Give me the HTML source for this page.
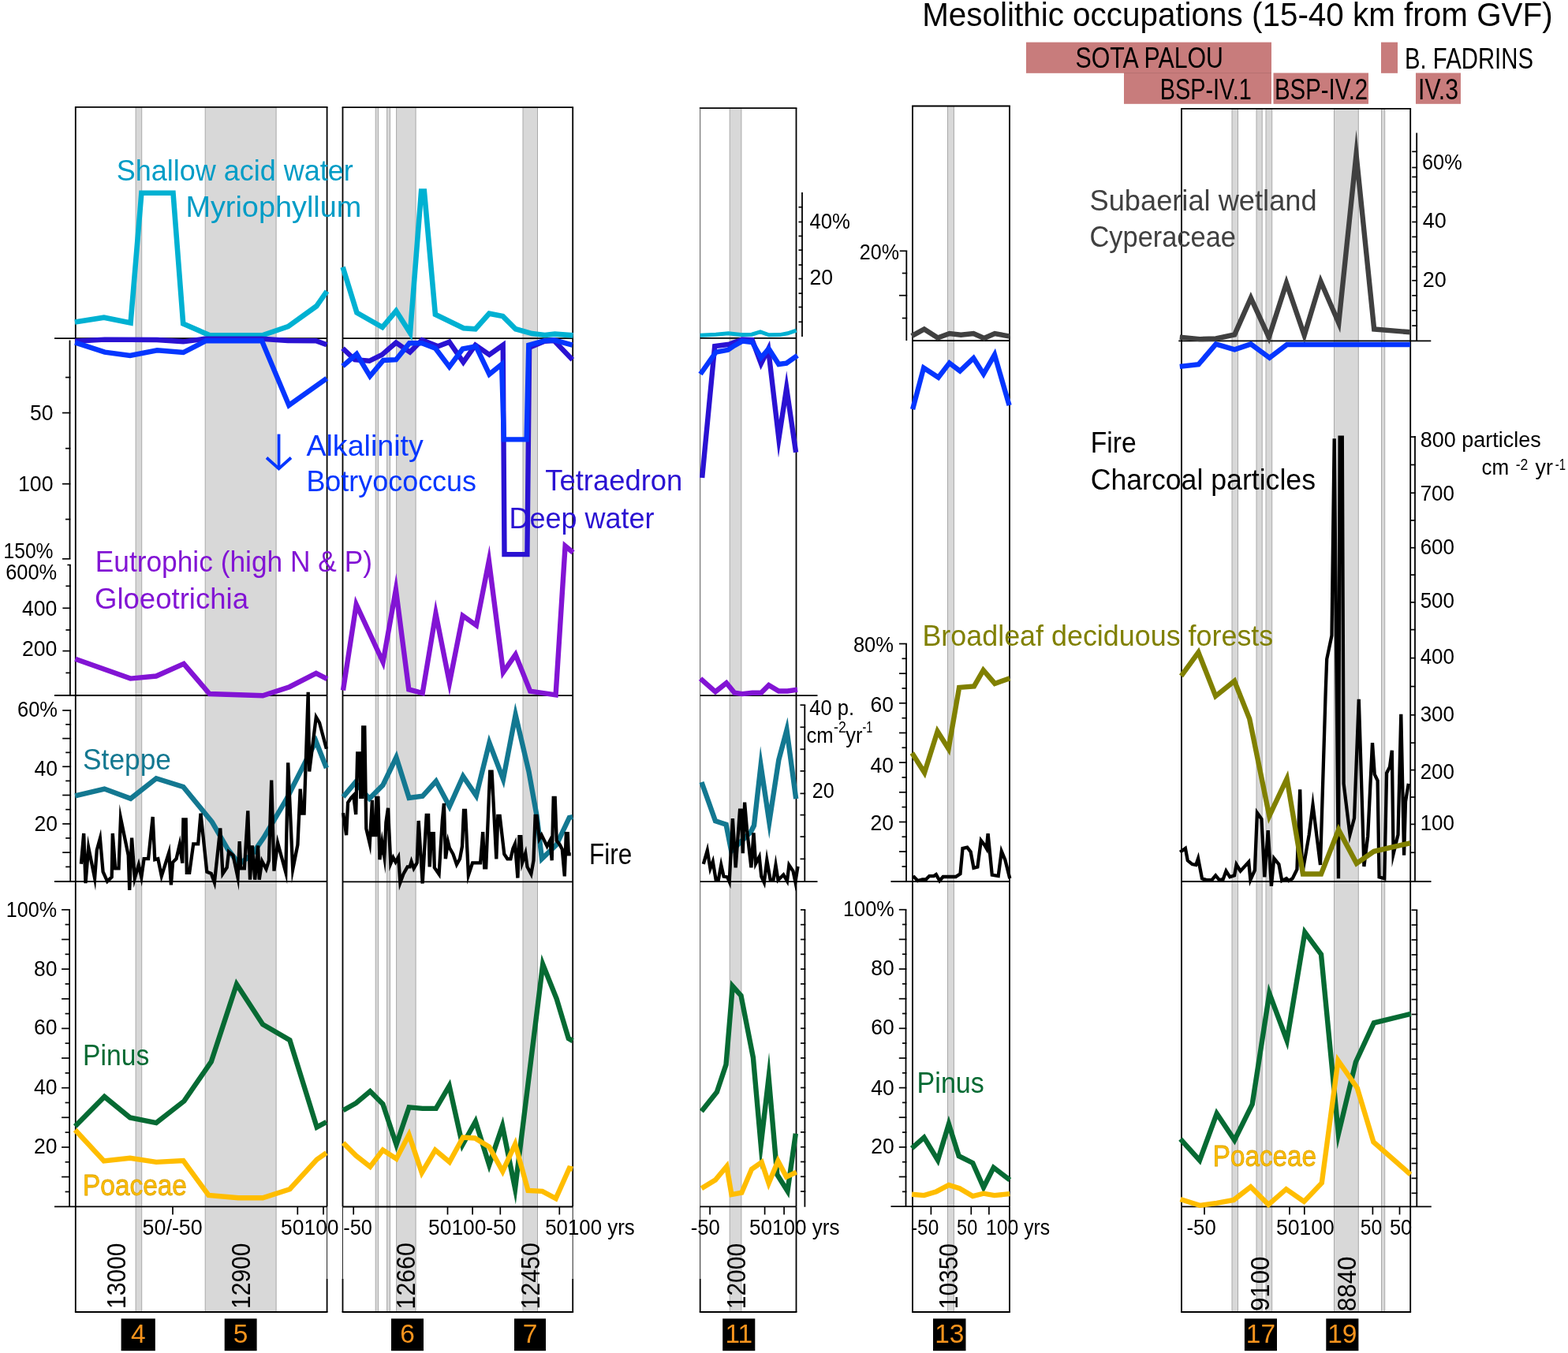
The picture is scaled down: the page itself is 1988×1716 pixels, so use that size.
<!DOCTYPE html>
<html><head><meta charset="utf-8"><title>Mesolithic occupations</title>
<style>
html,body{margin:0;padding:0;background:#fff;}
svg{display:block;font-family:"Liberation Sans",Arial,sans-serif;}
</style></head>
<body>
<svg width="1988" height="1716" viewBox="0 0 1988 1716">
<rect x="0" y="0" width="1988" height="1716" fill="#fff"/>
<rect x="172.1" y="135.8" width="7.6" height="1528.2" fill="#d8d8d8" stroke="#a9a9a9" stroke-width="1"/>
<rect x="260.2" y="135.8" width="89.9" height="1528.2" fill="#d8d8d8" stroke="#a9a9a9" stroke-width="1"/>
<rect x="476.2" y="136.2" width="3.5" height="1527.8" fill="#d8d8d8" stroke="#a9a9a9" stroke-width="1"/>
<rect x="490.6" y="136.2" width="3.9" height="1527.8" fill="#d8d8d8" stroke="#a9a9a9" stroke-width="1"/>
<rect x="502.6" y="136.2" width="24.5" height="1527.8" fill="#d8d8d8" stroke="#a9a9a9" stroke-width="1"/>
<rect x="663.0" y="136.2" width="18.5" height="1527.8" fill="#d8d8d8" stroke="#a9a9a9" stroke-width="1"/>
<rect x="925.2" y="137.2" width="14.7" height="1526.8" fill="#d8d8d8" stroke="#a9a9a9" stroke-width="1"/>
<rect x="1201.5" y="134.5" width="7.9" height="1529.5" fill="#d8d8d8" stroke="#a9a9a9" stroke-width="1"/>
<rect x="1562.0" y="137.9" width="7.5" height="1526.1" fill="#d8d8d8" stroke="#a9a9a9" stroke-width="1"/>
<rect x="1593.0" y="137.9" width="7.2" height="1526.1" fill="#d8d8d8" stroke="#a9a9a9" stroke-width="1"/>
<rect x="1605.0" y="137.9" width="7.7" height="1526.1" fill="#d8d8d8" stroke="#a9a9a9" stroke-width="1"/>
<rect x="1691.5" y="137.9" width="30.8" height="1526.1" fill="#d8d8d8" stroke="#a9a9a9" stroke-width="1"/>
<rect x="1751.5" y="137.9" width="4.2" height="1526.1" fill="#d8d8d8" stroke="#a9a9a9" stroke-width="1"/>
<line x1="94.89999999999999" y1="135.8" x2="415.5" y2="135.8" stroke="#000" stroke-width="1.8"/>
<line x1="95.8" y1="135.8" x2="95.8" y2="1530.5" stroke="#000" stroke-width="1.8"/>
<line x1="95.8" y1="1530.5" x2="95.8" y2="1664" stroke="#000" stroke-width="1.8"/>
<line x1="414.6" y1="135.8" x2="414.6" y2="1530.5" stroke="#000" stroke-width="1.8"/>
<line x1="414.6" y1="1530.5" x2="414.6" y2="1622" stroke="#222" stroke-width="1.0"/>
<line x1="414.6" y1="1622" x2="414.6" y2="1664" stroke="#000" stroke-width="1.8"/>
<line x1="94.89999999999999" y1="1664" x2="415.5" y2="1664" stroke="#000" stroke-width="1.8"/>
<line x1="433.6" y1="136.2" x2="727.1" y2="136.2" stroke="#000" stroke-width="1.8"/>
<line x1="434.5" y1="136.2" x2="434.5" y2="1530.5" stroke="#000" stroke-width="1.8"/>
<line x1="434.5" y1="1530.5" x2="434.5" y2="1622" stroke="#222" stroke-width="1.0"/>
<line x1="434.5" y1="1622" x2="434.5" y2="1664" stroke="#000" stroke-width="1.8"/>
<line x1="726.2" y1="136.2" x2="726.2" y2="1530.5" stroke="#000" stroke-width="1.8"/>
<line x1="726.2" y1="1530.5" x2="726.2" y2="1622" stroke="#222" stroke-width="1.0"/>
<line x1="726.2" y1="1622" x2="726.2" y2="1664" stroke="#000" stroke-width="1.8"/>
<line x1="433.6" y1="1664" x2="727.1" y2="1664" stroke="#000" stroke-width="1.8"/>
<line x1="886.8000000000001" y1="137.2" x2="1010.4" y2="137.2" stroke="#000" stroke-width="1.8"/>
<line x1="887.7" y1="137.2" x2="887.7" y2="1530.5" stroke="#555" stroke-width="1.0"/>
<line x1="887.7" y1="1530.5" x2="887.7" y2="1622" stroke="#222" stroke-width="1.0"/>
<line x1="887.7" y1="1622" x2="887.7" y2="1664" stroke="#000" stroke-width="1.8"/>
<line x1="1009.5" y1="137.2" x2="1009.5" y2="1530.5" stroke="#000" stroke-width="1.8"/>
<line x1="1009.5" y1="1530.5" x2="1009.5" y2="1664" stroke="#000" stroke-width="1.8"/>
<line x1="886.8000000000001" y1="1664" x2="1010.4" y2="1664" stroke="#000" stroke-width="1.8"/>
<line x1="1156.1" y1="134.5" x2="1280.9" y2="134.5" stroke="#000" stroke-width="1.8"/>
<line x1="1157.0" y1="134.5" x2="1157.0" y2="1530.5" stroke="#000" stroke-width="1.8"/>
<line x1="1157.0" y1="1530.5" x2="1157.0" y2="1664" stroke="#000" stroke-width="1.8"/>
<line x1="1280.0" y1="134.5" x2="1280.0" y2="1530.5" stroke="#000" stroke-width="1.8"/>
<line x1="1280.0" y1="1530.5" x2="1280.0" y2="1664" stroke="#000" stroke-width="1.8"/>
<line x1="1156.1" y1="1664" x2="1280.9" y2="1664" stroke="#000" stroke-width="1.8"/>
<line x1="1497.1" y1="137.9" x2="1789.1000000000001" y2="137.9" stroke="#000" stroke-width="1.8"/>
<line x1="1498.0" y1="137.9" x2="1498.0" y2="1530.5" stroke="#000" stroke-width="1.8"/>
<line x1="1498.0" y1="1530.5" x2="1498.0" y2="1664" stroke="#000" stroke-width="1.8"/>
<line x1="1788.2" y1="137.9" x2="1788.2" y2="1530.5" stroke="#000" stroke-width="1.8"/>
<line x1="1788.2" y1="1530.5" x2="1788.2" y2="1664" stroke="#000" stroke-width="1.8"/>
<line x1="1497.1" y1="1664" x2="1789.1000000000001" y2="1664" stroke="#000" stroke-width="1.8"/>
<line x1="69" y1="429.2" x2="414.6" y2="429.2" stroke="#000" stroke-width="1.8"/>
<line x1="434.5" y1="429.2" x2="726.2" y2="429.2" stroke="#000" stroke-width="1.8"/>
<line x1="887.7" y1="428.9" x2="1009.5" y2="428.9" stroke="#000" stroke-width="1.8"/>
<line x1="1157.0" y1="432.0" x2="1280.0" y2="432.0" stroke="#000" stroke-width="1.8"/>
<line x1="1494.3" y1="432.3" x2="1814.3" y2="432.3" stroke="#000" stroke-width="1.8"/>
<line x1="69" y1="882.0" x2="414.6" y2="882.0" stroke="#000" stroke-width="1.8"/>
<line x1="434.5" y1="882.2" x2="726.2" y2="882.2" stroke="#000" stroke-width="1.8"/>
<line x1="887.7" y1="882.1" x2="1036.5" y2="882.1" stroke="#000" stroke-width="1.8"/>
<line x1="69" y1="1118.0" x2="414.6" y2="1118.0" stroke="#000" stroke-width="1.8"/>
<line x1="434.5" y1="1118.3" x2="726.2" y2="1118.3" stroke="#000" stroke-width="1.8"/>
<line x1="887.7" y1="1118.1" x2="1036.5" y2="1118.1" stroke="#000" stroke-width="1.8"/>
<line x1="1129.5" y1="1118.0" x2="1280.0" y2="1118.0" stroke="#000" stroke-width="1.8"/>
<line x1="1498.0" y1="1118.0" x2="1814.5" y2="1118.0" stroke="#000" stroke-width="1.8"/>
<line x1="69" y1="1530.3" x2="414.6" y2="1530.3" stroke="#000" stroke-width="1.8"/>
<line x1="434.5" y1="1530.5" x2="726.2" y2="1530.5" stroke="#000" stroke-width="1.8"/>
<line x1="887.4" y1="1530.4" x2="1009.5" y2="1530.4" stroke="#000" stroke-width="1.8"/>
<line x1="1129.5" y1="1530.2" x2="1280.0" y2="1530.2" stroke="#000" stroke-width="1.8"/>
<line x1="1497.6" y1="1530.3" x2="1814.8" y2="1530.3" stroke="#000" stroke-width="1.8"/>
<line x1="219" y1="1530.5" x2="219" y2="1540.5" stroke="#000" stroke-width="1.7"/>
<line x1="377.3" y1="1530.5" x2="377.3" y2="1540.5" stroke="#000" stroke-width="1.7"/>
<line x1="410" y1="1530.5" x2="410" y2="1540.5" stroke="#000" stroke-width="1.7"/>
<line x1="448.2" y1="1530.5" x2="448.2" y2="1540.5" stroke="#000" stroke-width="1.7"/>
<line x1="567.5" y1="1530.5" x2="567.5" y2="1540.5" stroke="#000" stroke-width="1.7"/>
<line x1="599.1" y1="1530.5" x2="599.1" y2="1540.5" stroke="#000" stroke-width="1.7"/>
<line x1="634.3" y1="1530.5" x2="634.3" y2="1540.5" stroke="#000" stroke-width="1.7"/>
<line x1="709.3" y1="1530.5" x2="709.3" y2="1540.5" stroke="#000" stroke-width="1.7"/>
<line x1="900.1" y1="1530.5" x2="900.1" y2="1540.5" stroke="#000" stroke-width="1.7"/>
<line x1="969.6" y1="1530.5" x2="969.6" y2="1540.5" stroke="#000" stroke-width="1.7"/>
<line x1="994.1" y1="1530.5" x2="994.1" y2="1540.5" stroke="#000" stroke-width="1.7"/>
<line x1="1180.4" y1="1530.5" x2="1180.4" y2="1540.5" stroke="#000" stroke-width="1.7"/>
<line x1="1231.3" y1="1530.5" x2="1231.3" y2="1540.5" stroke="#000" stroke-width="1.7"/>
<line x1="1253.9" y1="1530.5" x2="1253.9" y2="1540.5" stroke="#000" stroke-width="1.7"/>
<line x1="1527" y1="1530.5" x2="1527" y2="1540.5" stroke="#000" stroke-width="1.7"/>
<line x1="1635" y1="1530.5" x2="1635" y2="1540.5" stroke="#000" stroke-width="1.7"/>
<line x1="1653.8" y1="1530.5" x2="1653.8" y2="1540.5" stroke="#000" stroke-width="1.7"/>
<line x1="1740.4" y1="1530.5" x2="1740.4" y2="1540.5" stroke="#000" stroke-width="1.7"/>
<line x1="1774.5" y1="1530.5" x2="1774.5" y2="1540.5" stroke="#000" stroke-width="1.7"/>
<line x1="88.5" y1="431.5" x2="88.5" y2="708.8" stroke="#000" stroke-width="1.8"/>
<line x1="79.0" y1="523.6" x2="89.4" y2="523.6" stroke="#000" stroke-width="1.7"/>
<line x1="79.0" y1="613.7" x2="89.4" y2="613.7" stroke="#000" stroke-width="1.7"/>
<line x1="79.0" y1="708.8" x2="89.4" y2="708.8" stroke="#000" stroke-width="1.7"/>
<line x1="83.0" y1="478.6" x2="89.4" y2="478.6" stroke="#000" stroke-width="1.7"/>
<line x1="83.0" y1="568.7" x2="89.4" y2="568.7" stroke="#000" stroke-width="1.7"/>
<line x1="83.0" y1="658.6" x2="89.4" y2="658.6" stroke="#000" stroke-width="1.7"/>
<line x1="88.9" y1="716.5" x2="88.9" y2="882" stroke="#000" stroke-width="1.8"/>
<line x1="85.4" y1="716.5" x2="89.80000000000001" y2="716.5" stroke="#000" stroke-width="1.7"/>
<line x1="79.4" y1="771.3" x2="89.80000000000001" y2="771.3" stroke="#000" stroke-width="1.7"/>
<line x1="79.4" y1="825.6" x2="89.80000000000001" y2="825.6" stroke="#000" stroke-width="1.7"/>
<line x1="83.4" y1="743.3" x2="89.80000000000001" y2="743.3" stroke="#000" stroke-width="1.7"/>
<line x1="83.4" y1="799.0" x2="89.80000000000001" y2="799.0" stroke="#000" stroke-width="1.7"/>
<line x1="83.4" y1="853.4" x2="89.80000000000001" y2="853.4" stroke="#000" stroke-width="1.7"/>
<line x1="89.2" y1="900" x2="89.2" y2="1118" stroke="#000" stroke-width="1.8"/>
<line x1="79.2" y1="901.0" x2="90.10000000000001" y2="901.0" stroke="#000" stroke-width="1.7"/>
<line x1="79.2" y1="972.3" x2="90.10000000000001" y2="972.3" stroke="#000" stroke-width="1.7"/>
<line x1="79.2" y1="1044.9" x2="90.10000000000001" y2="1044.9" stroke="#000" stroke-width="1.7"/>
<line x1="79.2" y1="936.6" x2="90.10000000000001" y2="936.6" stroke="#000" stroke-width="1.7"/>
<line x1="79.2" y1="1008.5" x2="90.10000000000001" y2="1008.5" stroke="#000" stroke-width="1.7"/>
<line x1="79.2" y1="1081.2" x2="90.10000000000001" y2="1081.2" stroke="#000" stroke-width="1.7"/>
<line x1="83.2" y1="918.8" x2="90.10000000000001" y2="918.8" stroke="#000" stroke-width="1.7"/>
<line x1="83.2" y1="954.4" x2="90.10000000000001" y2="954.4" stroke="#000" stroke-width="1.7"/>
<line x1="83.2" y1="990.4" x2="90.10000000000001" y2="990.4" stroke="#000" stroke-width="1.7"/>
<line x1="83.2" y1="1026.7" x2="90.10000000000001" y2="1026.7" stroke="#000" stroke-width="1.7"/>
<line x1="83.2" y1="1063.0" x2="90.10000000000001" y2="1063.0" stroke="#000" stroke-width="1.7"/>
<line x1="83.2" y1="1099.4" x2="90.10000000000001" y2="1099.4" stroke="#000" stroke-width="1.7"/>
<line x1="88.1" y1="1153.8" x2="88.1" y2="1530.3" stroke="#000" stroke-width="1.8"/>
<line x1="78.1" y1="1153.8" x2="89.0" y2="1153.8" stroke="#000" stroke-width="1.7"/>
<line x1="82.6" y1="1172.6" x2="89.0" y2="1172.6" stroke="#000" stroke-width="1.7"/>
<line x1="78.1" y1="1191.5" x2="89.0" y2="1191.5" stroke="#000" stroke-width="1.7"/>
<line x1="82.6" y1="1210.3" x2="89.0" y2="1210.3" stroke="#000" stroke-width="1.7"/>
<line x1="78.1" y1="1229.1" x2="89.0" y2="1229.1" stroke="#000" stroke-width="1.7"/>
<line x1="82.6" y1="1247.9" x2="89.0" y2="1247.9" stroke="#000" stroke-width="1.7"/>
<line x1="78.1" y1="1266.8" x2="89.0" y2="1266.8" stroke="#000" stroke-width="1.7"/>
<line x1="82.6" y1="1285.6" x2="89.0" y2="1285.6" stroke="#000" stroke-width="1.7"/>
<line x1="78.1" y1="1304.4" x2="89.0" y2="1304.4" stroke="#000" stroke-width="1.7"/>
<line x1="82.6" y1="1323.2" x2="89.0" y2="1323.2" stroke="#000" stroke-width="1.7"/>
<line x1="78.1" y1="1342.0" x2="89.0" y2="1342.0" stroke="#000" stroke-width="1.7"/>
<line x1="82.6" y1="1360.9" x2="89.0" y2="1360.9" stroke="#000" stroke-width="1.7"/>
<line x1="78.1" y1="1379.7" x2="89.0" y2="1379.7" stroke="#000" stroke-width="1.7"/>
<line x1="82.6" y1="1398.5" x2="89.0" y2="1398.5" stroke="#000" stroke-width="1.7"/>
<line x1="78.1" y1="1417.3" x2="89.0" y2="1417.3" stroke="#000" stroke-width="1.7"/>
<line x1="82.6" y1="1436.2" x2="89.0" y2="1436.2" stroke="#000" stroke-width="1.7"/>
<line x1="78.1" y1="1455.0" x2="89.0" y2="1455.0" stroke="#000" stroke-width="1.7"/>
<line x1="82.6" y1="1473.8" x2="89.0" y2="1473.8" stroke="#000" stroke-width="1.7"/>
<line x1="78.1" y1="1492.6" x2="89.0" y2="1492.6" stroke="#000" stroke-width="1.7"/>
<line x1="82.6" y1="1511.5" x2="89.0" y2="1511.5" stroke="#000" stroke-width="1.7"/>
<text x="38.0" y="532.9" font-size="27" fill="#000" textLength="29.5" lengthAdjust="spacingAndGlyphs" >50</text>
<text x="23.0" y="623.3" font-size="27" fill="#000" textLength="44.5" lengthAdjust="spacingAndGlyphs" >100</text>
<text x="4.5" y="707.5" font-size="27" fill="#000" textLength="63.0" lengthAdjust="spacingAndGlyphs" >150%</text>
<text x="7.2" y="735.0" font-size="27" fill="#000" textLength="65.0" lengthAdjust="spacingAndGlyphs" >600%</text>
<text x="27.9" y="781.4" font-size="27" fill="#000" textLength="44.5" lengthAdjust="spacingAndGlyphs" >400</text>
<text x="27.9" y="832.2" font-size="27" fill="#000" textLength="44.5" lengthAdjust="spacingAndGlyphs" >200</text>
<text x="22.0" y="909.4" font-size="27" fill="#000" textLength="51.0" lengthAdjust="spacingAndGlyphs" >60%</text>
<text x="43.5" y="984.0" font-size="27" fill="#000" textLength="29.5" lengthAdjust="spacingAndGlyphs" >40</text>
<text x="43.5" y="1054.2" font-size="27" fill="#000" textLength="29.5" lengthAdjust="spacingAndGlyphs" >20</text>
<text x="7.7" y="1162.5" font-size="27" fill="#000" textLength="64.3" lengthAdjust="spacingAndGlyphs" >100%</text>
<text x="43.0" y="1237.9" font-size="27" fill="#000" textLength="29.5" lengthAdjust="spacingAndGlyphs" >80</text>
<text x="43.0" y="1311.9" font-size="27" fill="#000" textLength="29.5" lengthAdjust="spacingAndGlyphs" >60</text>
<text x="43.0" y="1388.4" font-size="27" fill="#000" textLength="29.5" lengthAdjust="spacingAndGlyphs" >40</text>
<text x="43.0" y="1462.8" font-size="27" fill="#000" textLength="29.5" lengthAdjust="spacingAndGlyphs" >20</text>
<line x1="1017.0" y1="243.9" x2="1017.0" y2="427.0" stroke="#000" stroke-width="1.8"/>
<line x1="1012.5" y1="262.7" x2="1017.9" y2="262.7" stroke="#000" stroke-width="1.7"/>
<line x1="1012.5" y1="281.5" x2="1017.9" y2="281.5" stroke="#000" stroke-width="1.7"/>
<line x1="1012.5" y1="299.4" x2="1017.9" y2="299.4" stroke="#000" stroke-width="1.7"/>
<line x1="1012.5" y1="317.2" x2="1017.9" y2="317.2" stroke="#000" stroke-width="1.7"/>
<line x1="1012.5" y1="336.0" x2="1017.9" y2="336.0" stroke="#000" stroke-width="1.7"/>
<line x1="1012.5" y1="353.5" x2="1017.9" y2="353.5" stroke="#000" stroke-width="1.7"/>
<line x1="1012.5" y1="372.1" x2="1017.9" y2="372.1" stroke="#000" stroke-width="1.7"/>
<line x1="1012.5" y1="389.5" x2="1017.9" y2="389.5" stroke="#000" stroke-width="1.7"/>
<line x1="1012.5" y1="408.3" x2="1017.9" y2="408.3" stroke="#000" stroke-width="1.7"/>
<text x="1026.5" y="290.4" font-size="27" fill="#000" textLength="51.5" lengthAdjust="spacingAndGlyphs" >40%</text>
<text x="1026.5" y="361.4" font-size="27" fill="#000" textLength="29.7" lengthAdjust="spacingAndGlyphs" >20</text>
<line x1="1020.3" y1="894.2" x2="1020.3" y2="1118.0" stroke="#000" stroke-width="1.8"/>
<line x1="1014.5" y1="894.2" x2="1021.1999999999999" y2="894.2" stroke="#000" stroke-width="1.7"/>
<line x1="1014.5" y1="922.3" x2="1021.1999999999999" y2="922.3" stroke="#000" stroke-width="1.7"/>
<line x1="1014.5" y1="950.3" x2="1021.1999999999999" y2="950.3" stroke="#000" stroke-width="1.7"/>
<line x1="1014.5" y1="977.9" x2="1021.1999999999999" y2="977.9" stroke="#000" stroke-width="1.7"/>
<line x1="1014.5" y1="1006.4" x2="1021.1999999999999" y2="1006.4" stroke="#000" stroke-width="1.7"/>
<line x1="1014.5" y1="1033.6" x2="1021.1999999999999" y2="1033.6" stroke="#000" stroke-width="1.7"/>
<line x1="1014.5" y1="1061.2" x2="1021.1999999999999" y2="1061.2" stroke="#000" stroke-width="1.7"/>
<line x1="1014.5" y1="1089.4" x2="1021.1999999999999" y2="1089.4" stroke="#000" stroke-width="1.7"/>
<text x="1026.3" y="907.4" font-size="27" fill="#000" textLength="56.9" lengthAdjust="spacingAndGlyphs" >40 p.</text>
<text x="1022.5" y="942.3" font-size="27" fill="#000" textLength="34.3" lengthAdjust="spacingAndGlyphs" >cm</text>
<text x="1057.0" y="928.8" font-size="20.5" fill="#000" textLength="15.8" lengthAdjust="spacingAndGlyphs" >-2</text>
<text x="1072.3" y="942.3" font-size="27" fill="#000" textLength="21.2" lengthAdjust="spacingAndGlyphs" >yr</text>
<text x="1093.5" y="928.8" font-size="20.5" fill="#000" textLength="12.8" lengthAdjust="spacingAndGlyphs" >-1</text>
<text x="1029.7" y="1012.4" font-size="27" fill="#000" textLength="28.0" lengthAdjust="spacingAndGlyphs" >20</text>
<line x1="1020.4" y1="1153.9" x2="1020.4" y2="1530.7" stroke="#000" stroke-width="1.8"/>
<line x1="1015.0" y1="1153.9" x2="1021.3" y2="1153.9" stroke="#000" stroke-width="1.7"/>
<line x1="1015.0" y1="1172.7" x2="1021.3" y2="1172.7" stroke="#000" stroke-width="1.7"/>
<line x1="1015.0" y1="1191.5" x2="1021.3" y2="1191.5" stroke="#000" stroke-width="1.7"/>
<line x1="1015.0" y1="1210.3" x2="1021.3" y2="1210.3" stroke="#000" stroke-width="1.7"/>
<line x1="1015.0" y1="1229.1" x2="1021.3" y2="1229.1" stroke="#000" stroke-width="1.7"/>
<line x1="1015.0" y1="1247.9" x2="1021.3" y2="1247.9" stroke="#000" stroke-width="1.7"/>
<line x1="1015.0" y1="1266.7" x2="1021.3" y2="1266.7" stroke="#000" stroke-width="1.7"/>
<line x1="1015.0" y1="1285.5" x2="1021.3" y2="1285.5" stroke="#000" stroke-width="1.7"/>
<line x1="1015.0" y1="1304.3" x2="1021.3" y2="1304.3" stroke="#000" stroke-width="1.7"/>
<line x1="1015.0" y1="1323.1" x2="1021.3" y2="1323.1" stroke="#000" stroke-width="1.7"/>
<line x1="1015.0" y1="1341.9" x2="1021.3" y2="1341.9" stroke="#000" stroke-width="1.7"/>
<line x1="1015.0" y1="1360.7" x2="1021.3" y2="1360.7" stroke="#000" stroke-width="1.7"/>
<line x1="1015.0" y1="1379.5" x2="1021.3" y2="1379.5" stroke="#000" stroke-width="1.7"/>
<line x1="1015.0" y1="1398.3" x2="1021.3" y2="1398.3" stroke="#000" stroke-width="1.7"/>
<line x1="1015.0" y1="1417.1" x2="1021.3" y2="1417.1" stroke="#000" stroke-width="1.7"/>
<line x1="1015.0" y1="1435.9" x2="1021.3" y2="1435.9" stroke="#000" stroke-width="1.7"/>
<line x1="1015.0" y1="1454.7" x2="1021.3" y2="1454.7" stroke="#000" stroke-width="1.7"/>
<line x1="1015.0" y1="1473.5" x2="1021.3" y2="1473.5" stroke="#000" stroke-width="1.7"/>
<line x1="1015.0" y1="1492.3" x2="1021.3" y2="1492.3" stroke="#000" stroke-width="1.7"/>
<line x1="1015.0" y1="1511.1" x2="1021.3" y2="1511.1" stroke="#000" stroke-width="1.7"/>
<line x1="1149.3" y1="318.3" x2="1149.3" y2="432.0" stroke="#000" stroke-width="1.8"/>
<line x1="1140.7" y1="318.3" x2="1150.2" y2="318.3" stroke="#000" stroke-width="1.7"/>
<line x1="1143.8" y1="346.5" x2="1150.2" y2="346.5" stroke="#000" stroke-width="1.7"/>
<line x1="1140.0" y1="374.7" x2="1150.2" y2="374.7" stroke="#000" stroke-width="1.7"/>
<line x1="1143.8" y1="403.5" x2="1150.2" y2="403.5" stroke="#000" stroke-width="1.7"/>
<text x="1089.8" y="329.4" font-size="27" fill="#000" textLength="50.2" lengthAdjust="spacingAndGlyphs" >20%</text>
<line x1="1149.0" y1="816.5" x2="1149.0" y2="1118.0" stroke="#000" stroke-width="1.8"/>
<line x1="1140.0" y1="816.5" x2="1149.9" y2="816.5" stroke="#000" stroke-width="1.7"/>
<line x1="1143.5" y1="835.3" x2="1149.9" y2="835.3" stroke="#000" stroke-width="1.7"/>
<line x1="1140.0" y1="854.2" x2="1149.9" y2="854.2" stroke="#000" stroke-width="1.7"/>
<line x1="1143.5" y1="873.0" x2="1149.9" y2="873.0" stroke="#000" stroke-width="1.7"/>
<line x1="1140.0" y1="891.8" x2="1149.9" y2="891.8" stroke="#000" stroke-width="1.7"/>
<line x1="1143.5" y1="910.7" x2="1149.9" y2="910.7" stroke="#000" stroke-width="1.7"/>
<line x1="1140.0" y1="929.5" x2="1149.9" y2="929.5" stroke="#000" stroke-width="1.7"/>
<line x1="1143.5" y1="948.3" x2="1149.9" y2="948.3" stroke="#000" stroke-width="1.7"/>
<line x1="1140.0" y1="967.1" x2="1149.9" y2="967.1" stroke="#000" stroke-width="1.7"/>
<line x1="1143.5" y1="986.0" x2="1149.9" y2="986.0" stroke="#000" stroke-width="1.7"/>
<line x1="1140.0" y1="1004.8" x2="1149.9" y2="1004.8" stroke="#000" stroke-width="1.7"/>
<line x1="1143.5" y1="1023.6" x2="1149.9" y2="1023.6" stroke="#000" stroke-width="1.7"/>
<line x1="1140.0" y1="1042.5" x2="1149.9" y2="1042.5" stroke="#000" stroke-width="1.7"/>
<line x1="1143.5" y1="1061.3" x2="1149.9" y2="1061.3" stroke="#000" stroke-width="1.7"/>
<line x1="1140.0" y1="1080.1" x2="1149.9" y2="1080.1" stroke="#000" stroke-width="1.7"/>
<line x1="1143.5" y1="1099.0" x2="1149.9" y2="1099.0" stroke="#000" stroke-width="1.7"/>
<text x="1081.9" y="826.7" font-size="27" fill="#000" textLength="51.1" lengthAdjust="spacingAndGlyphs" >80%</text>
<text x="1103.5" y="902.5" font-size="27" fill="#000" textLength="29.5" lengthAdjust="spacingAndGlyphs" >60</text>
<text x="1103.5" y="979.9" font-size="27" fill="#000" textLength="29.5" lengthAdjust="spacingAndGlyphs" >40</text>
<text x="1103.5" y="1052.8" font-size="27" fill="#000" textLength="29.5" lengthAdjust="spacingAndGlyphs" >20</text>
<line x1="1148.5" y1="1153.7" x2="1148.5" y2="1530.2" stroke="#000" stroke-width="1.8"/>
<line x1="1139.8" y1="1153.7" x2="1149.4" y2="1153.7" stroke="#000" stroke-width="1.7"/>
<line x1="1144.0" y1="1172.5" x2="1149.4" y2="1172.5" stroke="#000" stroke-width="1.7"/>
<line x1="1139.8" y1="1191.4" x2="1149.4" y2="1191.4" stroke="#000" stroke-width="1.7"/>
<line x1="1144.0" y1="1210.2" x2="1149.4" y2="1210.2" stroke="#000" stroke-width="1.7"/>
<line x1="1139.8" y1="1229.0" x2="1149.4" y2="1229.0" stroke="#000" stroke-width="1.7"/>
<line x1="1144.0" y1="1247.8" x2="1149.4" y2="1247.8" stroke="#000" stroke-width="1.7"/>
<line x1="1139.8" y1="1266.7" x2="1149.4" y2="1266.7" stroke="#000" stroke-width="1.7"/>
<line x1="1144.0" y1="1285.5" x2="1149.4" y2="1285.5" stroke="#000" stroke-width="1.7"/>
<line x1="1139.8" y1="1304.3" x2="1149.4" y2="1304.3" stroke="#000" stroke-width="1.7"/>
<line x1="1144.0" y1="1323.1" x2="1149.4" y2="1323.1" stroke="#000" stroke-width="1.7"/>
<line x1="1139.8" y1="1342.0" x2="1149.4" y2="1342.0" stroke="#000" stroke-width="1.7"/>
<line x1="1144.0" y1="1360.8" x2="1149.4" y2="1360.8" stroke="#000" stroke-width="1.7"/>
<line x1="1139.8" y1="1379.6" x2="1149.4" y2="1379.6" stroke="#000" stroke-width="1.7"/>
<line x1="1144.0" y1="1398.4" x2="1149.4" y2="1398.4" stroke="#000" stroke-width="1.7"/>
<line x1="1139.8" y1="1417.2" x2="1149.4" y2="1417.2" stroke="#000" stroke-width="1.7"/>
<line x1="1144.0" y1="1436.1" x2="1149.4" y2="1436.1" stroke="#000" stroke-width="1.7"/>
<line x1="1139.8" y1="1454.9" x2="1149.4" y2="1454.9" stroke="#000" stroke-width="1.7"/>
<line x1="1144.0" y1="1473.7" x2="1149.4" y2="1473.7" stroke="#000" stroke-width="1.7"/>
<line x1="1139.8" y1="1492.5" x2="1149.4" y2="1492.5" stroke="#000" stroke-width="1.7"/>
<line x1="1144.0" y1="1511.4" x2="1149.4" y2="1511.4" stroke="#000" stroke-width="1.7"/>
<text x="1069.0" y="1162.4" font-size="27" fill="#000" textLength="64.7" lengthAdjust="spacingAndGlyphs" >100%</text>
<text x="1104.2" y="1237.3" font-size="27" fill="#000" textLength="29.5" lengthAdjust="spacingAndGlyphs" >80</text>
<text x="1104.2" y="1312.3" font-size="27" fill="#000" textLength="29.5" lengthAdjust="spacingAndGlyphs" >60</text>
<text x="1104.2" y="1389.0" font-size="27" fill="#000" textLength="29.5" lengthAdjust="spacingAndGlyphs" >40</text>
<text x="1104.2" y="1463.2" font-size="27" fill="#000" textLength="29.5" lengthAdjust="spacingAndGlyphs" >20</text>
<line x1="1796.2" y1="168.6" x2="1796.2" y2="432.3" stroke="#000" stroke-width="1.8"/>
<line x1="1790.2" y1="413.1" x2="1797.1000000000001" y2="413.1" stroke="#000" stroke-width="1.7"/>
<line x1="1790.2" y1="393.9" x2="1797.1000000000001" y2="393.9" stroke="#000" stroke-width="1.7"/>
<line x1="1790.2" y1="374.8" x2="1797.1000000000001" y2="374.8" stroke="#000" stroke-width="1.7"/>
<line x1="1790.2" y1="355.8" x2="1797.1000000000001" y2="355.8" stroke="#000" stroke-width="1.7"/>
<line x1="1790.2" y1="338.4" x2="1797.1000000000001" y2="338.4" stroke="#000" stroke-width="1.7"/>
<line x1="1790.2" y1="319.5" x2="1797.1000000000001" y2="319.5" stroke="#000" stroke-width="1.7"/>
<line x1="1790.2" y1="300.4" x2="1797.1000000000001" y2="300.4" stroke="#000" stroke-width="1.7"/>
<line x1="1790.2" y1="281.5" x2="1797.1000000000001" y2="281.5" stroke="#000" stroke-width="1.7"/>
<line x1="1790.2" y1="262.4" x2="1797.1000000000001" y2="262.4" stroke="#000" stroke-width="1.7"/>
<line x1="1790.2" y1="243.5" x2="1797.1000000000001" y2="243.5" stroke="#000" stroke-width="1.7"/>
<line x1="1790.2" y1="224.4" x2="1797.1000000000001" y2="224.4" stroke="#000" stroke-width="1.7"/>
<line x1="1790.2" y1="212.5" x2="1797.1000000000001" y2="212.5" stroke="#000" stroke-width="1.7"/>
<line x1="1790.2" y1="192.3" x2="1797.1000000000001" y2="192.3" stroke="#000" stroke-width="1.7"/>
<text x="1803.0" y="215.1" font-size="27" fill="#000" textLength="50.7" lengthAdjust="spacingAndGlyphs" >60%</text>
<text x="1803.8" y="289.4" font-size="27" fill="#000" textLength="30.1" lengthAdjust="spacingAndGlyphs" >40</text>
<text x="1803.8" y="364.3" font-size="27" fill="#000" textLength="30.1" lengthAdjust="spacingAndGlyphs" >20</text>
<line x1="1794.0" y1="553.0" x2="1794.0" y2="1118.0" stroke="#000" stroke-width="1.8"/>
<line x1="1788.0" y1="554.1" x2="1794.9" y2="554.1" stroke="#000" stroke-width="1.7"/>
<line x1="1788.0" y1="589.5" x2="1794.9" y2="589.5" stroke="#000" stroke-width="1.7"/>
<line x1="1788.0" y1="625.2" x2="1794.9" y2="625.2" stroke="#000" stroke-width="1.7"/>
<line x1="1788.0" y1="660.0" x2="1794.9" y2="660.0" stroke="#000" stroke-width="1.7"/>
<line x1="1788.0" y1="694.7" x2="1794.9" y2="694.7" stroke="#000" stroke-width="1.7"/>
<line x1="1788.0" y1="729.1" x2="1794.9" y2="729.1" stroke="#000" stroke-width="1.7"/>
<line x1="1788.0" y1="763.9" x2="1794.9" y2="763.9" stroke="#000" stroke-width="1.7"/>
<line x1="1788.0" y1="798.6" x2="1794.9" y2="798.6" stroke="#000" stroke-width="1.7"/>
<line x1="1788.0" y1="834.6" x2="1794.9" y2="834.6" stroke="#000" stroke-width="1.7"/>
<line x1="1788.0" y1="870.6" x2="1794.9" y2="870.6" stroke="#000" stroke-width="1.7"/>
<line x1="1788.0" y1="906.8" x2="1794.9" y2="906.8" stroke="#000" stroke-width="1.7"/>
<line x1="1788.0" y1="942.2" x2="1794.9" y2="942.2" stroke="#000" stroke-width="1.7"/>
<line x1="1788.0" y1="976.6" x2="1794.9" y2="976.6" stroke="#000" stroke-width="1.7"/>
<line x1="1788.0" y1="1011.0" x2="1794.9" y2="1011.0" stroke="#000" stroke-width="1.7"/>
<line x1="1788.0" y1="1045.4" x2="1794.9" y2="1045.4" stroke="#000" stroke-width="1.7"/>
<line x1="1788.0" y1="1081.3" x2="1794.9" y2="1081.3" stroke="#000" stroke-width="1.7"/>
<text x="1800.7" y="566.8" font-size="27" fill="#000" textLength="153.2" lengthAdjust="spacingAndGlyphs" >800 particles</text>
<text x="1878.6" y="602.3" font-size="27" fill="#000" textLength="34.7" lengthAdjust="spacingAndGlyphs" >cm</text>
<text x="1921.7" y="596.3" font-size="20.5" fill="#000" textLength="15.7" lengthAdjust="spacingAndGlyphs" >-2</text>
<text x="1946.5" y="602.3" font-size="27" fill="#000" textLength="22.3" lengthAdjust="spacingAndGlyphs" >yr</text>
<text x="1971.8" y="596.3" font-size="20.5" fill="#000" textLength="13.3" lengthAdjust="spacingAndGlyphs" >-1</text>
<text x="1800.7" y="635.3" font-size="27" fill="#000" textLength="43.3" lengthAdjust="spacingAndGlyphs" >700</text>
<text x="1800.7" y="702.6" font-size="27" fill="#000" textLength="43.3" lengthAdjust="spacingAndGlyphs" >600</text>
<text x="1800.7" y="771.1" font-size="27" fill="#000" textLength="43.3" lengthAdjust="spacingAndGlyphs" >500</text>
<text x="1800.7" y="841.6" font-size="27" fill="#000" textLength="43.3" lengthAdjust="spacingAndGlyphs" >400</text>
<text x="1800.7" y="914.5" font-size="27" fill="#000" textLength="43.3" lengthAdjust="spacingAndGlyphs" >300</text>
<text x="1800.7" y="988.0" font-size="27" fill="#000" textLength="43.3" lengthAdjust="spacingAndGlyphs" >200</text>
<text x="1800.7" y="1053.0" font-size="27" fill="#000" textLength="43.3" lengthAdjust="spacingAndGlyphs" >100</text>
<line x1="1796.3" y1="1154.2" x2="1796.3" y2="1530.3" stroke="#000" stroke-width="1.8"/>
<line x1="1789.6" y1="1154.2" x2="1797.2" y2="1154.2" stroke="#000" stroke-width="1.7"/>
<line x1="1789.6" y1="1173.1" x2="1797.2" y2="1173.1" stroke="#000" stroke-width="1.7"/>
<line x1="1789.6" y1="1192.0" x2="1797.2" y2="1192.0" stroke="#000" stroke-width="1.7"/>
<line x1="1789.6" y1="1210.9" x2="1797.2" y2="1210.9" stroke="#000" stroke-width="1.7"/>
<line x1="1789.6" y1="1229.8" x2="1797.2" y2="1229.8" stroke="#000" stroke-width="1.7"/>
<line x1="1789.6" y1="1248.7" x2="1797.2" y2="1248.7" stroke="#000" stroke-width="1.7"/>
<line x1="1789.6" y1="1267.6" x2="1797.2" y2="1267.6" stroke="#000" stroke-width="1.7"/>
<line x1="1789.6" y1="1286.5" x2="1797.2" y2="1286.5" stroke="#000" stroke-width="1.7"/>
<line x1="1789.6" y1="1305.4" x2="1797.2" y2="1305.4" stroke="#000" stroke-width="1.7"/>
<line x1="1789.6" y1="1324.3" x2="1797.2" y2="1324.3" stroke="#000" stroke-width="1.7"/>
<line x1="1789.6" y1="1343.2" x2="1797.2" y2="1343.2" stroke="#000" stroke-width="1.7"/>
<line x1="1789.6" y1="1362.1" x2="1797.2" y2="1362.1" stroke="#000" stroke-width="1.7"/>
<line x1="1789.6" y1="1381.0" x2="1797.2" y2="1381.0" stroke="#000" stroke-width="1.7"/>
<line x1="1789.6" y1="1399.9" x2="1797.2" y2="1399.9" stroke="#000" stroke-width="1.7"/>
<line x1="1789.6" y1="1418.8" x2="1797.2" y2="1418.8" stroke="#000" stroke-width="1.7"/>
<line x1="1789.6" y1="1437.7" x2="1797.2" y2="1437.7" stroke="#000" stroke-width="1.7"/>
<line x1="1789.6" y1="1456.6" x2="1797.2" y2="1456.6" stroke="#000" stroke-width="1.7"/>
<line x1="1789.6" y1="1475.5" x2="1797.2" y2="1475.5" stroke="#000" stroke-width="1.7"/>
<line x1="1789.6" y1="1494.4" x2="1797.2" y2="1494.4" stroke="#000" stroke-width="1.7"/>
<line x1="1789.6" y1="1513.3" x2="1797.2" y2="1513.3" stroke="#000" stroke-width="1.7"/>
<text x="180.5" y="1565.5" font-size="27" fill="#000" textLength="76.3" lengthAdjust="spacingAndGlyphs" >50/-50</text>
<text x="356.0" y="1565.5" font-size="27" fill="#000" textLength="73.6" lengthAdjust="spacingAndGlyphs" >50100</text>
<text x="435.3" y="1565.5" font-size="27" fill="#000" textLength="36.7" lengthAdjust="spacingAndGlyphs" >-50</text>
<text x="543.1" y="1565.5" font-size="27" fill="#000" textLength="111.3" lengthAdjust="spacingAndGlyphs" >50100-50</text>
<text x="691.2" y="1565.5" font-size="27" fill="#000" textLength="113.5" lengthAdjust="spacingAndGlyphs" >50100 yrs</text>
<text x="875.7" y="1565.5" font-size="27" fill="#000" textLength="37.2" lengthAdjust="spacingAndGlyphs" >-50</text>
<text x="950.0" y="1565.5" font-size="27" fill="#000" textLength="114.6" lengthAdjust="spacingAndGlyphs" >50100 yrs</text>
<text x="1155.0" y="1565.5" font-size="27" fill="#000" textLength="35.2" lengthAdjust="spacingAndGlyphs" >-50</text>
<text x="1213.1" y="1565.5" font-size="27" fill="#000" textLength="26.1" lengthAdjust="spacingAndGlyphs" >50</text>
<text x="1250.0" y="1565.5" font-size="27" fill="#000" textLength="81.2" lengthAdjust="spacingAndGlyphs" >100 yrs</text>
<text x="1504.5" y="1565.5" font-size="27" fill="#000" textLength="37.2" lengthAdjust="spacingAndGlyphs" >-50</text>
<text x="1618.0" y="1565.5" font-size="27" fill="#000" textLength="73.8" lengthAdjust="spacingAndGlyphs" >50100</text>
<text x="1724.7" y="1565.5" font-size="27" fill="#000" textLength="27.4" lengthAdjust="spacingAndGlyphs" >50</text>
<text x="1761.9" y="1565.5" font-size="27" fill="#000" textLength="28.4" lengthAdjust="spacingAndGlyphs" >50</text>
<text transform="translate(159.2,1660.0) rotate(-90)" x="0" y="0" font-size="33" fill="#000" textLength="83.5" lengthAdjust="spacingAndGlyphs">13000</text>
<text transform="translate(317.1,1660.0) rotate(-90)" x="0" y="0" font-size="33" fill="#000" textLength="83.5" lengthAdjust="spacingAndGlyphs">12900</text>
<text transform="translate(525.6,1660.4) rotate(-90)" x="0" y="0" font-size="33" fill="#000" textLength="84.2" lengthAdjust="spacingAndGlyphs">12660</text>
<text transform="translate(683.5,1660.4) rotate(-90)" x="0" y="0" font-size="33" fill="#000" textLength="84.2" lengthAdjust="spacingAndGlyphs">12450</text>
<text transform="translate(944.6,1660.2) rotate(-90)" x="0" y="0" font-size="33" fill="#000" textLength="83.3" lengthAdjust="spacingAndGlyphs">12000</text>
<text transform="translate(1213.7,1660.2) rotate(-90)" x="0" y="0" font-size="33" fill="#000" textLength="83.2" lengthAdjust="spacingAndGlyphs">10350</text>
<text transform="translate(1609.2,1663.1000000000001) rotate(-90)" x="0" y="0" font-size="33" fill="#000" textLength="69.5" lengthAdjust="spacingAndGlyphs">9100</text>
<text transform="translate(1718.8,1663.1000000000001) rotate(-90)" x="0" y="0" font-size="33" fill="#000" textLength="69.5" lengthAdjust="spacingAndGlyphs">8840</text>
<rect x="153.6" y="1672.4" width="43.2" height="40.8" fill="#000" stroke="none" stroke-width="0"/>
<text x="175.2" y="1702.8" font-size="33.5" fill="#f7941d" text-anchor="middle">4</text>
<rect x="284.7" y="1672.4" width="40.9" height="40.8" fill="#000" stroke="none" stroke-width="0"/>
<text x="305.1" y="1702.8" font-size="33.5" fill="#f7941d" text-anchor="middle">5</text>
<rect x="496.0" y="1672.4" width="41.0" height="40.8" fill="#000" stroke="none" stroke-width="0"/>
<text x="516.5" y="1702.8" font-size="33.5" fill="#f7941d" text-anchor="middle">6</text>
<rect x="652.0" y="1672.4" width="40.0" height="40.8" fill="#000" stroke="none" stroke-width="0"/>
<text x="672.0" y="1702.8" font-size="33.5" fill="#f7941d" text-anchor="middle">7</text>
<rect x="916.2" y="1672.4" width="41.1" height="40.8" fill="#000" stroke="none" stroke-width="0"/>
<text x="936.8" y="1702.8" font-size="33.5" fill="#f7941d" text-anchor="middle">11</text>
<rect x="1183.0" y="1672.4" width="41.5" height="40.8" fill="#000" stroke="none" stroke-width="0"/>
<text x="1203.8" y="1702.8" font-size="33.5" fill="#f7941d" text-anchor="middle">13</text>
<rect x="1577.9" y="1672.4" width="41.1" height="40.8" fill="#000" stroke="none" stroke-width="0"/>
<text x="1598.5" y="1702.8" font-size="33.5" fill="#f7941d" text-anchor="middle">17</text>
<rect x="1681.3" y="1672.4" width="41.1" height="40.8" fill="#000" stroke="none" stroke-width="0"/>
<text x="1701.8" y="1702.8" font-size="33.5" fill="#f7941d" text-anchor="middle">19</text>
<text x="1169.2" y="33.0" font-size="42" fill="#000" textLength="799.5" lengthAdjust="spacingAndGlyphs" >Mesolithic occupations (15-40 km from GVF)</text>
<rect x="1301.0" y="53.6" width="311.0" height="39.2" fill="#c87c7c" stroke="none" stroke-width="0"/>
<rect x="1425.0" y="92.5" width="187.0" height="39.3" fill="#c87c7c" stroke="none" stroke-width="0"/>
<rect x="1614.5" y="92.5" width="120.5" height="39.3" fill="#c87c7c" stroke="none" stroke-width="0"/>
<rect x="1751.0" y="53.6" width="21.0" height="39.2" fill="#c87c7c" stroke="none" stroke-width="0"/>
<rect x="1795.0" y="92.5" width="57.0" height="39.3" fill="#c87c7c" stroke="none" stroke-width="0"/>
<line x1="1425.0" y1="92.6" x2="1612.0" y2="92.6" stroke="#b06a6a" stroke-width="0.8"/>
<text x="1363.5" y="85.8" font-size="36" fill="#000" textLength="187.5" lengthAdjust="spacingAndGlyphs" >SOTA PALOU</text>
<text x="1781.0" y="86.5" font-size="36" fill="#000" textLength="163.0" lengthAdjust="spacingAndGlyphs" >B. FADRINS</text>
<text x="1470.7" y="126.0" font-size="36" fill="#000" textLength="116.1" lengthAdjust="spacingAndGlyphs" >BSP-IV.1</text>
<text x="1615.9" y="126.0" font-size="36" fill="#000" textLength="118.3" lengthAdjust="spacingAndGlyphs" >BSP-IV.2</text>
<text x="1798.0" y="126.0" font-size="36" fill="#000" textLength="51.0" lengthAdjust="spacingAndGlyphs" >IV.3</text>
<polyline points="94.9,408.4 131.8,402.7 165.6,409.5 179.4,244.7 219.5,244.7 232.2,410.5 266.0,425.3 332.6,425.3 365.3,414.1 401.2,388.3 414.5,369.3" fill="none" stroke="#00b1d2" stroke-width="6.6" stroke-linejoin="miter" stroke-miterlimit="14" />
<polyline points="434.6,338.7 452.4,396.5 484.8,415.0 502.2,394.3 520.0,422.4 534.1,242.6 537.9,242.6 551.9,398.8 587.8,416.2 602.8,417.3 620.2,397.7 637.5,401.1 653.7,417.3 674.5,423.1 690.7,425.0 703.5,423.6 726.6,425.4" fill="none" stroke="#00b1d2" stroke-width="6.6" stroke-linejoin="miter" stroke-miterlimit="14" />
<polyline points="887.7,425.2 907.6,424.2 923.4,422.8 939.3,424.6 953.1,424.2 964.0,420.8 974.9,424.8 988.8,424.6 998.7,422.8 1009.6,419.2" fill="none" stroke="#00b1d2" stroke-width="5" stroke-linejoin="miter" stroke-miterlimit="10" />
<polyline points="95.2,432.8 132.8,430.6 199.0,431.0 232.4,433.3 259.0,429.8 332.0,429.8 365.0,432.0 400.6,432.2 414.3,437.3" fill="none" stroke="#2a12d2" stroke-width="6.4" stroke-linejoin="miter" stroke-miterlimit="14" />
<polyline points="95.2,434.4 132.8,446.6 164.9,451.0 199.2,444.3 232.4,447.0 261.2,432.2 332.0,432.2 366.3,514.0 414.3,479.8" fill="none" stroke="#0536ff" stroke-width="6.4" stroke-linejoin="miter" stroke-miterlimit="14" />
<polyline points="434.5,441.7 449.8,456.2 468.3,457.8 484.4,449.8 502.1,434.5 519.8,446.6 535.1,431.3 555.2,439.3 569.7,433.7 587.4,459.3 602.7,437.7 620.4,449.8 637.7,437.7 639.5,703.1 668.4,703.1 671.1,440.9 690.4,432.9 702.5,432.1 725.8,456.2" fill="none" stroke="#2a12d2" stroke-width="6.4" stroke-linejoin="miter" stroke-miterlimit="14" />
<polyline points="434.5,464.3 452.2,449.0 469.1,477.1 486.0,457.0 502.1,456.2 519.0,435.3 535.1,435.3 552.0,441.7 569.7,465.1 586.6,442.5 603.5,439.3 620.4,474.7 636.1,462.0 638.9,557.4 667.6,557.4 670.3,437.7 690.4,432.1 702.5,431.3 725.8,437.7" fill="none" stroke="#0536ff" stroke-width="6.4" stroke-linejoin="miter" stroke-miterlimit="14" />
<polyline points="890.2,606.0 906.2,439.0 924.3,436.8 941.1,430.6 953.7,431.2 964.9,461.3 974.1,442.8 987.4,556.5 997.2,492.1 1009.1,573.8" fill="none" stroke="#2a12d2" stroke-width="6.4" stroke-linejoin="miter" stroke-miterlimit="14" />
<polyline points="888.0,474.5 907.6,446.6 922.9,443.8 931.3,438.2 941.1,432.6 953.7,434.0 964.9,453.6 974.7,442.4 987.3,462.0 997.1,460.6 1011.0,450.8" fill="none" stroke="#0536ff" stroke-width="6.4" stroke-linejoin="miter" stroke-miterlimit="14" />
<polyline points="1155.9,426.1 1171.8,417.5 1189.0,428.5 1203.7,423.1 1218.3,424.8 1234.3,423.1 1247.7,429.0 1261.2,423.1 1280.3,426.6" fill="none" stroke="#404040" stroke-width="6.4" stroke-linejoin="miter" stroke-miterlimit="14" />
<polyline points="1157.1,519.1 1171.1,466.5 1189.7,478.7 1203.7,460.4 1217.1,470.6 1234.3,454.2 1247.0,474.4 1261.0,449.9 1279.6,514.2" fill="none" stroke="#0536ff" stroke-width="6.4" stroke-linejoin="miter" stroke-miterlimit="14" />
<polyline points="1495.8,427.6 1521.1,430.1 1541.6,429.5 1565.3,424.4 1585.9,377.9 1608.8,427.9 1631.0,358.9 1653.7,425.3 1674.4,356.8 1697.3,409.8 1719.5,195.9 1742.2,417.5 1788.0,421.3" fill="none" stroke="#404040" stroke-width="6.4" stroke-linejoin="miter" stroke-miterlimit="14" />
<polyline points="1495.8,464.9 1519.5,462.3 1541.6,436.4 1565.3,443.4 1585.9,436.4 1609.6,453.8 1631.7,437.0 1788.0,437.0" fill="none" stroke="#0536ff" stroke-width="6.4" stroke-linejoin="miter" stroke-miterlimit="14" />
<polyline points="95.4,835.7 165.4,860.6 198.0,857.5 233.0,841.8 265.6,880.0 333.2,882.3 367.0,871.2 400.8,853.8 414.8,861.1" fill="none" stroke="#8214d4" stroke-width="6.4" stroke-linejoin="miter" stroke-miterlimit="14" />
<polyline points="435.0,875.5 451.7,766.7 485.6,839.8 501.9,747.9 518.3,874.4 535.7,879.0 552.5,778.2 569.9,866.0 586.7,781.0 603.9,793.1 619.9,711.3 638.0,852.5 653.6,830.1 672.2,876.7 704.6,881.3 716.6,692.5 726.6,700.8" fill="none" stroke="#8214d4" stroke-width="6.4" stroke-linejoin="miter" stroke-miterlimit="14" />
<polyline points="888.0,860.6 907.0,877.3 921.0,866.2 931.3,878.7 941.1,880.1 953.7,878.7 964.9,878.7 974.7,869.0 987.3,876.5 998.5,876.5 1011.0,874.6" fill="none" stroke="#8214d4" stroke-width="6.4" stroke-linejoin="miter" stroke-miterlimit="14" />
<polyline points="95.2,1009.4 132.4,1000.6 165.6,1012.8 198.1,987.3 232.4,997.9 268.9,1042.6 288.8,1077.0 303.2,1095.8 319.8,1083.6 334.2,1062.6 363.0,1013.9 400.5,940.0 413.9,974.0" fill="none" stroke="#137891" stroke-width="6.4" stroke-linejoin="miter" stroke-miterlimit="14" />
<polyline points="435.1,1010.8 450.2,992.7 468.3,1012.9 485.4,995.8 502.4,960.5 518.6,1011.9 535.7,1009.8 552.8,990.8 569.9,1022.8 587.1,984.5 603.8,1009.2 620.4,942.0 638.0,988.4 653.6,906.6 670.5,978.7 680.6,1035.0 687.0,1089.3 705.7,1071.2 721.8,1037.0 726.2,1036.0" fill="none" stroke="#137891" stroke-width="6.4" stroke-linejoin="miter" stroke-miterlimit="14" />
<polyline points="889.5,992.0 907.0,1041.2 920.6,1045.8 927.2,1079.3 952.0,1055.0 956.0,1047.0 964.6,970.8 975.3,1042.5 987.3,963.9 997.5,925.7 1009.2,1013.2" fill="none" stroke="#137891" stroke-width="6.4" stroke-linejoin="miter" stroke-miterlimit="14" />
<polyline points="102.9,1095.8 106.2,1057.0 108.5,1120.1 112.2,1074.8 120.1,1113.9 122.8,1078.1 126.9,1063.3 130.6,1105.7 136.1,1117.9 141.7,1112.4 142.8,1057.0 146.1,1101.3 150.5,1101.3 153.0,1037.6 162.7,1084.7 164.2,1129.0 167.1,1062.6 170.8,1113.9 175.8,1096.9 179.3,1112.5 182.6,1089.1 188.1,1089.1 193.7,1036.0 196.3,1090.2 200.3,1089.1 204.8,1111.1 214.2,1081.4 216.9,1122.3 219.1,1093.6 223.6,1089.1 227.8,1070.8 231.3,1094.7 232.4,1039.3 235.7,1039.3 236.8,1106.8 240.2,1106.8 245.2,1070.3 251.2,1070.3 254.5,1031.6 262.3,1105.7 267.8,1107.9 271.9,1119.3 279.3,1050.4 282.4,1108.1 287.7,1100.2 290.0,1080.3 295.5,1084.7 301.5,1112.9 303.7,1067.0 305.4,1101.3 309.9,1101.3 314.3,1028.3 317.0,1115.7 319.8,1072.5 323.2,1115.7 327.1,1072.5 328.7,1115.7 332.2,1092.3 337.5,1102.2 340.9,1091.3 344.2,989.5 347.5,1104.6 352.1,1068.9 362.3,1106.6 365.2,967.4 371.2,1102.7 377.4,1071.4 380.7,1000.6 382.9,1031.6 385.6,1031.6 390.7,877.7 392.2,978.5 400.8,909.5 405.0,916.5 413.9,949.7" fill="none" stroke="#000" stroke-width="4.3" stroke-linejoin="miter" stroke-miterlimit="10" />
<polyline points="435.1,1031.0 439.1,1059.1 441.1,1017.9 445.2,1011.9 448.2,1008.8 451.2,1033.0 453.2,955.5 456.2,955.5 457.2,1010.8 459.2,1010.8 460.2,922.3 462.3,922.3 464.3,1051.1 468.8,1070.0 471.9,1014.9 473.3,1059.1 476.3,1059.1 477.3,1011.9 479.4,1011.9 481.4,1090.3 484.4,1068.4 487.4,1087.3 489.4,1043.0 492.0,1024.9 495.3,1095.3 498.5,1087.5 501.5,1093.3 505.1,1087.0 507.4,1119.4 511.5,1108.4 516.6,1099.4 519.6,1099.4 521.6,1092.8 524.6,1101.4 528.7,1094.3 530.7,1041.0 535.7,1120.5 540.7,1034.0 543.1,1034.0 544.7,1099.4 547.2,1057.1 549.8,1057.1 550.8,1100.4 556.6,1108.7 560.8,1041.0 562.9,1018.9 564.9,1089.3 568.0,1067.7 569.9,1075.2 574.5,1083.3 579.0,1096.4 583.0,1089.3 586.0,1073.2 588.0,1027.9 590.0,1027.9 593.9,1110.0 599.1,1094.3 609.1,1094.3 612.2,1055.1 614.2,1100.4 616.2,1100.4 621.2,978.7 623.6,978.7 629.3,1089.3 631.3,1035.0 633.7,1035.0 639.3,1083.3 643.3,1089.3 647.4,1089.3 650.4,1076.2 653.0,1070.3 656.4,1113.5 658.4,1061.1 660.4,1061.1 662.1,1094.2 666.2,1082.2 668.5,1099.4 673.4,1108.6 676.5,1091.3 678.6,1035.0 680.6,1035.0 683.8,1063.9 686.6,1059.1 693.6,1073.2 697.4,1065.9 699.7,1091.3 701.7,1011.9 703.7,1011.9 705.7,1066.2 709.7,1071.2 712.8,1077.2 715.8,1111.4 717.8,1057.1 719.8,1057.1 720.8,1083.3 723.8,1083.3" fill="none" stroke="#000" stroke-width="4.3" stroke-linejoin="miter" stroke-miterlimit="10" />
<polyline points="891.8,1095.8 896.8,1078.5 900.5,1101.6 903.8,1092.8 907.7,1116.2 910.8,1116.2 914.3,1097.1 917.6,1111.7 922.1,1112.4 924.7,1118.2 928.9,1038.2 932.7,1100.3 938.0,1027.6 939.5,1027.6 941.8,1082.1 944.1,1017.7 947.1,1053.3 952.4,1100.3 955.5,1056.4 958.1,1095.4 962.7,1086.6 965.3,1111.7 968.8,1119.2 972.3,1090.9 976.7,1116.2 980.5,1116.2 983.5,1097.2 986.5,1116.2 993.3,1109.4 998.0,1117.4 1000.4,1097.1 1005.5,1104.8 1008.4,1118.6 1011.5,1098.8" fill="none" stroke="#000" stroke-width="4.3" stroke-linejoin="miter" stroke-miterlimit="10" />
<polyline points="1157.7,1111.1 1163.6,1117.0 1169.4,1115.5 1173.8,1115.5 1178.2,1111.1 1184.0,1111.1 1186.9,1109.1 1191.3,1117.0 1195.7,1112.0 1211.7,1112.0 1217.5,1108.2 1220.5,1076.1 1226.3,1074.7 1230.7,1080.5 1234.5,1100.9 1239.4,1099.5 1243.8,1066.0 1248.2,1071.7 1250.8,1076.1 1252.6,1057.2 1257.8,1109.7 1265.7,1111.1 1269.8,1079.7 1274.4,1090.7 1280.3,1114.1" fill="none" stroke="#000" stroke-width="4.3" stroke-linejoin="miter" stroke-miterlimit="10" />
<polyline points="1496.2,1080.8 1502.9,1076.0 1505.8,1091.3 1511.5,1096.1 1516.3,1097.0 1519.1,1088.9 1524.0,1114.2 1529.7,1116.1 1536.4,1116.1 1541.2,1110.4 1546.0,1116.1 1550.7,1115.2 1554.5,1104.7 1559.3,1112.3 1565.1,1110.4 1567.6,1096.5 1572.7,1104.7 1583.2,1093.2 1585.4,1115.9 1590.9,1103.7 1593.9,1030.9 1599.5,1038.7 1603.3,1112.3 1607.7,1053.1 1611.9,1123.8 1615.3,1088.6 1621.4,1096.1 1625.3,1117.1 1631.0,1114.2 1633.9,1117.1 1638.7,1114.2 1644.4,1102.8 1648.2,1001.4 1651.1,1108.5 1659.7,1058.8 1664.5,1020.8 1674.0,1097.0 1680.6,880.0 1682.2,835.9 1688.5,805.9 1691.7,556.3 1697.0,1114.2 1698.6,554.7 1701.8,554.7 1703.6,993.8 1711.5,1058.6 1717.0,1037.8 1722.8,886.8 1729.4,1099.0 1734.2,1060.7 1740.0,942.2 1742.8,982.3 1746.6,990.0 1748.6,1112.3 1755.3,1114.2 1758.1,980.4 1762.0,972.8 1764.8,951.7 1766.6,1083.1 1772.5,1058.8 1776.3,905.9 1780.1,1084.6 1782.0,1016.7 1785.8,993.8" fill="none" stroke="#000" stroke-width="4.3" stroke-linejoin="miter" stroke-miterlimit="10" />
<polyline points="1156.3,955.0 1172.1,979.9 1188.6,927.5 1202.6,949.8 1216.1,871.9 1235.0,870.4 1246.7,850.0 1261.3,866.9 1280.3,860.2" fill="none" stroke="#808000" stroke-width="6.4" stroke-linejoin="miter" stroke-miterlimit="14" />
<polyline points="1497.6,857.3 1519.4,827.4 1541.2,882.9 1565.1,863.8 1584.2,911.6 1609.3,1034.9 1631.6,987.5 1652.0,1108.5 1675.0,1108.5 1697.1,1052.4 1719.9,1095.1 1741.9,1079.8 1787.7,1069.3" fill="none" stroke="#808000" stroke-width="6.4" stroke-linejoin="miter" stroke-miterlimit="14" />
<polyline points="95.2,1428.5 132.4,1390.9 164.9,1417.5 198.1,1424.1 233.5,1396.4 267.8,1346.6 300.0,1248.3 333.1,1299.2 367.4,1319.2 401.7,1429.6 413.9,1423.0" fill="none" stroke="#066a33" stroke-width="6.4" stroke-linejoin="miter" stroke-miterlimit="14" />
<polyline points="435.1,1408.3 451.2,1399.2 469.3,1384.1 485.4,1400.2 502.5,1451.8 518.6,1404.3 535.7,1405.9 552.8,1405.9 569.6,1377.2 586.3,1452.2 602.9,1422.3 620.2,1477.4 637.0,1428.1 653.1,1507.6 688.2,1223.0 705.7,1266.8 720.8,1317.1 726.2,1320.1" fill="none" stroke="#066a33" stroke-width="6.4" stroke-linejoin="miter" stroke-miterlimit="14" />
<polyline points="889.4,1409.4 908.9,1384.9 920.5,1350.3 928.8,1250.7 939.5,1262.7 954.9,1341.3 964.7,1452.2 974.6,1366.6 985.3,1489.6 998.5,1510.7 1008.8,1437.8" fill="none" stroke="#066a33" stroke-width="6.4" stroke-linejoin="miter" stroke-miterlimit="14" />
<polyline points="1156.0,1456.4 1171.6,1442.7 1189.0,1471.4 1202.9,1425.6 1215.7,1466.2 1233.3,1475.0 1247.0,1506.0 1259.7,1480.8 1280.3,1496.5" fill="none" stroke="#066a33" stroke-width="6.4" stroke-linejoin="miter" stroke-miterlimit="14" />
<polyline points="1496.6,1444.6 1521.0,1471.6 1542.7,1412.3 1565.2,1446.0 1587.7,1400.6 1609.4,1259.9 1631.6,1319.6 1654.4,1182.4 1675.0,1210.4 1696.9,1438.3 1718.9,1347.0 1741.9,1297.3 1788.7,1285.9" fill="none" stroke="#066a33" stroke-width="6.4" stroke-linejoin="miter" stroke-miterlimit="14" />
<polyline points="95.2,1433.0 131.7,1472.4 164.9,1468.8 198.1,1473.9 232.4,1472.1 264.5,1516.0 302.1,1519.3 333.1,1519.3 367.4,1508.2 401.7,1470.6 413.9,1462.2" fill="none" stroke="#ffbd00" stroke-width="6.4" stroke-linejoin="miter" stroke-miterlimit="14" />
<polyline points="435.1,1449.5 451.2,1465.6 469.3,1479.7 485.4,1458.6 502.5,1469.7 518.5,1439.2 534.8,1487.4 551.8,1458.6 569.9,1473.7 587.0,1442.5 602.1,1443.5 620.2,1454.6 637.3,1485.7 653.2,1451.0 669.5,1509.9 687.6,1510.9 704.7,1520.0 721.8,1481.7 726.2,1482.7" fill="none" stroke="#ffbd00" stroke-width="6.4" stroke-linejoin="miter" stroke-miterlimit="14" />
<polyline points="889.4,1507.3 907.0,1496.5 921.3,1479.3 927.5,1515.1 940.3,1512.7 953.0,1482.8 965.7,1474.0 974.6,1500.7 986.4,1472.5 997.0,1492.6 1009.8,1486.7" fill="none" stroke="#ffbd00" stroke-width="6.4" stroke-linejoin="miter" stroke-miterlimit="14" />
<polyline points="1156.0,1514.7 1171.6,1516.1 1187.3,1511.2 1202.9,1503.0 1216.6,1507.3 1233.3,1517.1 1247.0,1513.7 1260.7,1516.1 1280.3,1514.1" fill="none" stroke="#ffbd00" stroke-width="6.4" stroke-linejoin="miter" stroke-miterlimit="14" />
<polyline points="1496.6,1521.0 1521.1,1528.8 1542.6,1525.8 1564.2,1521.9 1585.7,1505.3 1608.2,1527.8 1630.7,1508.2 1653.3,1523.9 1675.8,1500.4 1696.5,1345.0 1720.8,1380.0 1741.4,1448.5 1788.3,1489.6" fill="none" stroke="#ffbd00" stroke-width="6.4" stroke-linejoin="miter" stroke-miterlimit="14" />
<line x1="353.5" y1="550.6" x2="353.5" y2="594.0" stroke="#0536ff" stroke-width="3.8"/>
<polyline points="338.0,580.5 353.5,594.5 369.0,580.5" fill="none" stroke="#0536ff" stroke-width="3.8" stroke-linejoin="miter" stroke-miterlimit="10" />
<text x="147.7" y="228.8" font-size="37" fill="#009cc6" textLength="300.0" lengthAdjust="spacingAndGlyphs" >Shallow acid water</text>
<text x="235.4" y="275.3" font-size="37" fill="#009cc6" textLength="222.9" lengthAdjust="spacingAndGlyphs" >Myriophyllum</text>
<text x="388.4" y="578.0" font-size="37" fill="#0536ff" textLength="148.5" lengthAdjust="spacingAndGlyphs" >Alkalinity</text>
<text x="388.4" y="623.3" font-size="37" fill="#0536ff" textLength="215.6" lengthAdjust="spacingAndGlyphs" >Botryococcus</text>
<text x="691.2" y="622.1" font-size="37" fill="#2a12d2" textLength="174.2" lengthAdjust="spacingAndGlyphs" >Tetraedron</text>
<text x="645.6" y="669.6" font-size="37" fill="#2a12d2" textLength="184.0" lengthAdjust="spacingAndGlyphs" >Deep water</text>
<text x="120.7" y="724.5" font-size="37" fill="#8214d4" textLength="351.3" lengthAdjust="spacingAndGlyphs" >Eutrophic (high N &amp; P)</text>
<text x="120.0" y="771.7" font-size="37" fill="#8214d4" textLength="195.0" lengthAdjust="spacingAndGlyphs" >Gloeotrichia</text>
<text x="105.1" y="975.8" font-size="37" fill="#137891" textLength="111.8" lengthAdjust="spacingAndGlyphs" >Steppe</text>
<text x="747.0" y="1096.4" font-size="37" fill="#000" textLength="54.3" lengthAdjust="spacingAndGlyphs" >Fire</text>
<text x="105.1" y="1351.3" font-size="37" fill="#066a33" textLength="84.1" lengthAdjust="spacingAndGlyphs" >Pinus</text>
<text x="105.1" y="1516.0" font-size="37" fill="#ffbd00" textLength="131.7" lengthAdjust="spacingAndGlyphs" stroke="#d9a100" stroke-width="0.8">Poaceae</text>
<text x="1169.4" y="818.5" font-size="37" fill="#808000" textLength="444.9" lengthAdjust="spacingAndGlyphs" >Broadleaf deciduous forests</text>
<text x="1381.5" y="266.5" font-size="37" fill="#404040" textLength="288.1" lengthAdjust="spacingAndGlyphs" >Subaerial wetland</text>
<text x="1381.5" y="313.2" font-size="37" fill="#404040" textLength="185.4" lengthAdjust="spacingAndGlyphs" >Cyperaceae</text>
<text x="1382.7" y="573.7" font-size="37" fill="#000" textLength="57.9" lengthAdjust="spacingAndGlyphs" >Fire</text>
<text x="1382.7" y="621.0" font-size="37" fill="#000" textLength="285.3" lengthAdjust="spacingAndGlyphs" >Charcoal particles</text>
<text x="1162.6" y="1386.3" font-size="37" fill="#066a33" textLength="85.2" lengthAdjust="spacingAndGlyphs" >Pinus</text>
<text x="1537.8" y="1478.9" font-size="37" fill="#ffbd00" textLength="131.1" lengthAdjust="spacingAndGlyphs" stroke="#d9a100" stroke-width="0.8">Poaceae</text>
</svg>
</body></html>
